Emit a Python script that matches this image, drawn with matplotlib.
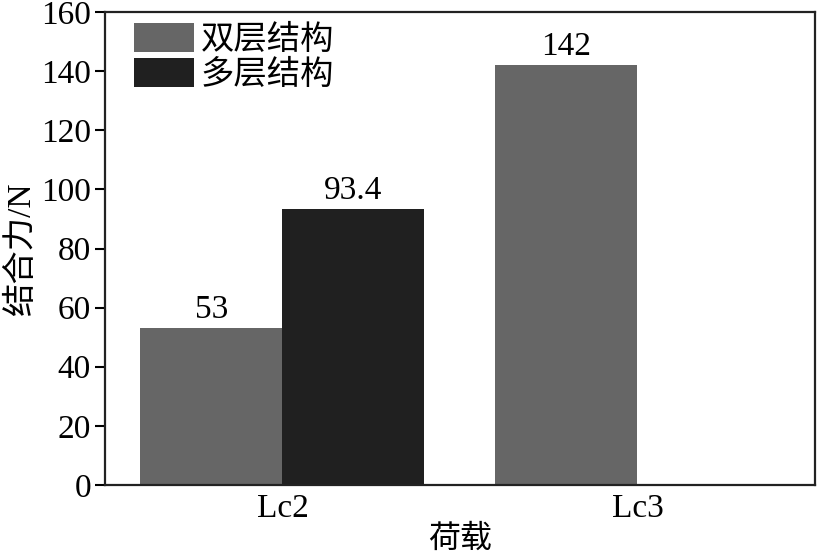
import numpy as np
import matplotlib
matplotlib.use("Agg")
import matplotlib.pyplot as plt

plt.rcParams['font.family'] = ['Liberation Serif', 'Noto Sans CJK SC', 'DejaVu Sans']

categories = ['Lc2', 'Lc3']
series_names = ['双层结构', '多层结构']
double_layer = [53, 142]
multi_layer = [93.4, np.nan]
value_labels_double = ['53', '142']
value_labels_multi = ['93.4', '']
colors = ['#666666', '#202020']

fig = plt.figure(figsize=(8.17, 5.59), dpi=100)
ax = fig.add_axes([0.1285, 0.1324, 0.869, 0.8461])

x = np.arange(len(categories))
w = 0.4
b1 = ax.bar(x - w/2, double_layer, w, color=colors[0], label=series_names[0])
b2 = ax.bar(x + w/2, multi_layer, w, color=colors[1], label=series_names[1])

for bars, labs in ((b1, value_labels_double), (b2, value_labels_multi)):
    for rect, lab in zip(bars, labs):
        h = rect.get_height()
        if lab and np.isfinite(h):
            ax.text(rect.get_x() + rect.get_width()/2, h + 1.0, lab,
                    ha='center', va='bottom', fontsize=24)

ax.set_xlim(-0.5, 1.5)
ax.set_ylim(0, 160)
ax.set_yticks(np.arange(0, 161, 20))
ax.set_xticks(x)
ax.set_xticklabels(categories)
ax.tick_params(axis='y', direction='out', length=7, width=1.5, labelsize=24, pad=3)
ax.tick_params(axis='x', length=0, labelsize=24, pad=6)
for s in ax.spines.values():
    s.set_linewidth(1.6)
    s.set_color('#222222')

ax.set_xlabel('荷载', fontsize=23, labelpad=1)
ax.set_ylabel('结合力/N', fontsize=24, labelpad=3)

ax.legend(loc='upper left', frameon=False, fontsize=24, handlelength=1.8,
          handleheight=0.95, labelspacing=0.08, handletextpad=0.2,
          borderpad=0.0, borderaxespad=0.0, bbox_to_anchor=(0.041, 0.977))

fig.savefig('out.png', dpi=100)
